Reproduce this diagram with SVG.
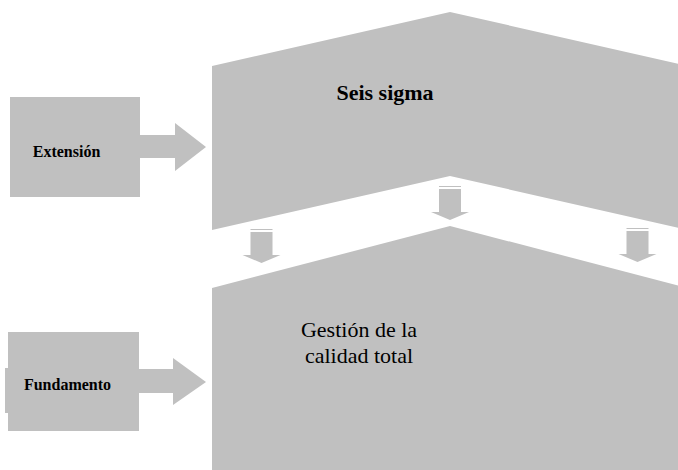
<svg xmlns="http://www.w3.org/2000/svg" width="678" height="470" viewBox="0 0 678 470">
<style>
.g{fill:#c0c0c0;stroke:none}
text{font-family:'Liberation Serif','Times New Roman',Times,serif;fill:#000}
.b{font-weight:bold}
</style>
<defs>
<g id="down">
<rect class="g" x="-11" y="0" width="22" height="1"/>
<polygon class="g" points="-11,3 11,3 11,26 19,26 0,34 -19,26 -11,26"/>
</g>
</defs>
<rect width="678" height="470" fill="#fff"/>
<g id="seis-sigma">
<polygon class="g" points="212,66 450,12 688,66 688,230 450,176 212,230"/>
<text class="b" x="385" y="100" font-size="22" text-anchor="middle">Seis sigma</text>
</g>
<g id="gestion">
<polygon class="g" points="212,288 450,226 688,288 688,470 212,470"/>
<text x="359" y="337" font-size="22" text-anchor="middle">Gestión de la</text>
<text x="359" y="363" font-size="22" text-anchor="middle">calidad total</text>
</g>
<g id="extension">
<rect class="g" x="10" y="97" width="130" height="100"/>
<text class="b" x="66.5" y="157" font-size="16" text-anchor="middle">Extensión</text>
</g>
<g id="fundamento">
<rect class="g" x="8" y="332" width="131" height="99"/>
<rect class="g" x="5" y="368" width="4" height="45"/>
<text class="b" x="67.5" y="390" font-size="16" text-anchor="middle">Fundamento</text>
</g>
<g id="connectors">
<polygon class="g" points="139,135 175,135 175,123 206,147 175,171 175,158 139,158"/>
<polygon class="g" points="138,369 173,369 173,358 206,382 173,405 173,393 138,393"/>
<use href="#down" x="450" y="186"/>
<use href="#down" x="261.5" y="229"/>
<use href="#down" x="637.5" y="228"/>
</g>
</svg>
